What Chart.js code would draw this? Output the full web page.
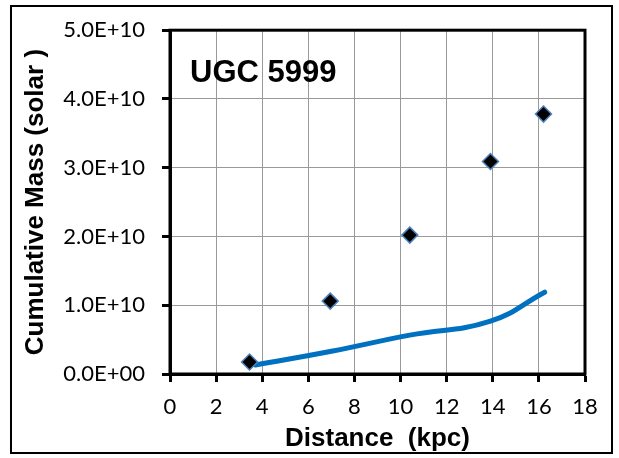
<!DOCTYPE html>
<html><head><meta charset="utf-8">
<script src="https://cdn.jsdelivr.net/npm/chart.js@4"></script>
<style>html,body{margin:0;padding:0;background:#fff}#wrap{width:619px;height:458px}</style>
</head><body><div id="wrap"><canvas id="c" width="619" height="458"></canvas></div>
<script>
const chartTitle = "UGC 5999";
const xTitle = "Distance  (kpc)";
const yTitle = "Cumulative Mass (solar )";
const pointDistance = [3.45, 6.95, 10.4, 13.9, 16.2];
const pointMass = [1.75e9, 1.06e10, 2.02e10, 3.09e10, 3.78e10];
const lineDistance = [3.7, 7.0, 10.4, 13.9, 16.25];
const lineMass = [1.3e9, 3.3e9, 5.65e9, 7.7e9, 1.19e10];
const xMin = 0, xMax = 18, xStep = 2;
const yMin = 0, yMax = 5e10, yStep = 1e10;

function fmtE(v){
  if (v === 0) return "0.0E+00";
  const e = Math.floor(Math.log10(Math.abs(v)) + 1e-9);
  const m = v / Math.pow(10, e);
  const es = (e < 0 ? "-" : "+") + String(Math.abs(e)).padStart(2, "0");
  return m.toFixed(1) + "E" + es;
}

const decor = {
  id: 'decor',
  afterDraw(chart){
    const ctx = chart.ctx, a = chart.chartArea;
    ctx.save();
    ctx.strokeStyle = '#000';
    ctx.lineWidth = 3;
    ctx.strokeRect(a.left, a.top, a.right - a.left, a.bottom - a.top);
    ctx.lineWidth = 2;
    ctx.strokeRect(11, 6, 601, 447);
    ctx.fillStyle = '#000';
    ctx.font = 'bold 31px "Liberation Sans", Arial, sans-serif';
    ctx.textBaseline = 'alphabetic';
    ctx.fillText(chartTitle, a.left + 20, a.top + 52);
    ctx.restore();
  }
};

const tickFont = { family: 'Lato, "Open Sans", sans-serif', size: 22 };
const titleFont = { family: '"Liberation Sans", Arial, sans-serif', size: 26, weight: 'bold' };

new Chart(document.getElementById('c'), {
  type: 'scatter',
  data: {
    datasets: [
      {
        type: 'line',
        data: lineDistance.map((x, i) => ({x, y: lineMass[i]})),
        borderColor: '#0070C0',
        borderWidth: 5,
        pointRadius: 0,
        tension: 0.45,
        cubicInterpolationMode: 'default',
        fill: false,
        borderCapStyle: 'round',
        order: 2
      },
      {
        data: pointDistance.map((x, i) => ({x, y: pointMass[i]})),
        pointStyle: 'rectRot',
        pointRadius: 8,
        backgroundColor: '#000',
        borderColor: '#4F81BD',
        borderWidth: 1.5,
        order: 1
      }
    ]
  },
  plugins: [decor],
  options: {
    responsive: false,
    animation: false,
    events: [],
    layout: { padding: { top: 26, right: 34, left: 20, bottom: 4 } },
    plugins: { legend: { display: false }, tooltip: { enabled: false }, title: { display: false } },
    scales: {
      x: {
        type: 'linear', min: xMin, max: xMax,
        ticks: { stepSize: xStep, color: '#000', font: tickFont, padding: 12 },
        grid: { color: '#9a9a9a', lineWidth: 1, tickLength: 8, tickColor: '#000', tickWidth: 3 },
        border: { color: '#000', width: 3 },
        title: { display: true, text: xTitle, color: '#000', font: titleFont, padding: { top: 0, bottom: 0 } },
        afterFit(s){ s.height = 458 - 374 - 4; }
      },
      y: {
        type: 'linear', min: yMin, max: yMax,
        ticks: { stepSize: yStep, color: '#000', font: tickFont, padding: 17, callback: v => fmtE(v) },
        grid: { color: '#9a9a9a', lineWidth: 1, tickLength: 8, tickColor: '#000', tickWidth: 3 },
        border: { color: '#000', width: 3 },
        title: { display: true, text: yTitle, color: '#000', font: titleFont, padding: { top: 0, bottom: 0 } },
        afterFit(s){ s.width = 170 - 20; }
      }
    }
  }
});
</script></body></html>
